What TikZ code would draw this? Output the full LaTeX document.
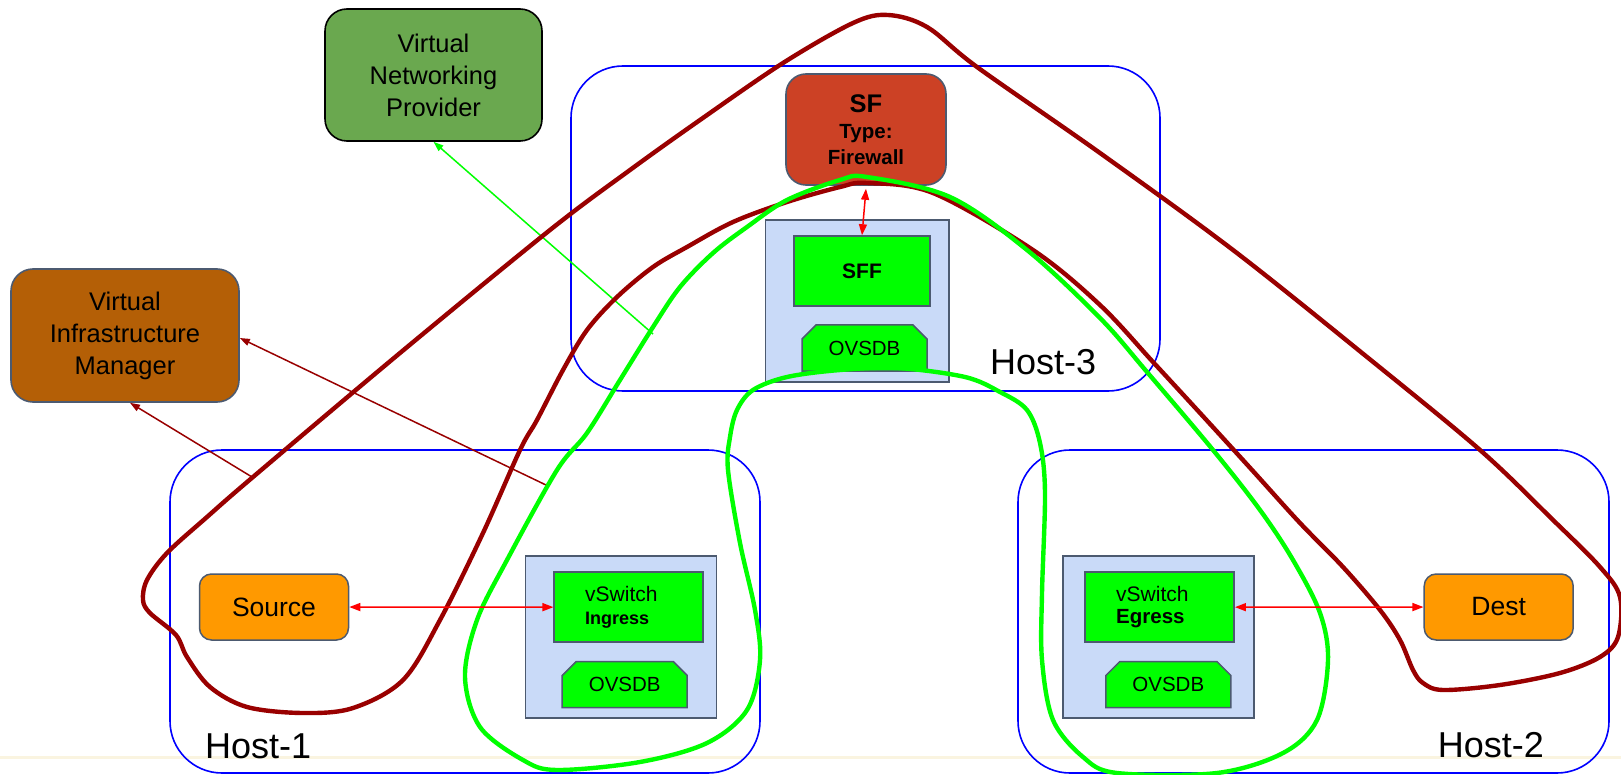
\documentclass[tikz,border=0pt]{standalone}
\usepackage{fontspec}
\setmainfont{Liberation Sans}
\usetikzlibrary{arrows.meta,shapes.misc}
\definecolor{hostblue}{RGB}{0,0,255}
\definecolor{vnpgreen}{RGB}{106,168,79}
\definecolor{vimbrown}{RGB}{180,95,6}
\definecolor{sfred}{RGB}{204,65,37}
\definecolor{srcorange}{RGB}{255,153,0}
\definecolor{lightblue}{RGB}{201,218,248}
\definecolor{brightgreen}{RGB}{0,255,0}
\definecolor{darkred}{RGB}{153,0,0}
\definecolor{slate}{RGB}{76,90,112}
\definecolor{faintline}{RGB}{250,244,224}
\tikzset{
  hostbox/.style={draw=hostblue, line width=1.6pt, rounded corners=52pt, inner sep=0pt},
  hostlabel/.style={inner sep=0pt, anchor=base west, font=\fontsize{36}{40}\selectfont},
  bigbox/.style={line width=1.6pt, rounded corners=22pt, inner sep=0pt, align=center,
    font=\fontsize{25.5}{32}\selectfont},
  lbbox/.style={draw=slate, fill=lightblue, line width=1.5pt, inner sep=0pt},
  gbox/.style={draw=slate, fill=brightgreen, line width=1.5pt, inner sep=0pt},
  vsbox/.style={gbox, align=left, inner ysep=0pt, inner xsep=31pt, text width=87pt,
    minimum height=70pt, font=\fontsize{21}{22.5}\selectfont},
  ovsdb/.style={chamfered rectangle, chamfered rectangle corners={north west,north east},
    chamfered rectangle xsep=7pt, chamfered rectangle ysep=7pt,
    draw=slate, fill=brightgreen, line width=1.5pt, inner sep=0pt,
    minimum width=125pt, minimum height=46pt, font=\fontsize{20.5}{24}\selectfont},
  endbox/.style={draw=slate, fill=srcorange, line width=1.5pt, rounded corners=12pt,
    inner sep=0pt, minimum width=149pt, minimum height=66pt,
    font=\fontsize{26.5}{30}\selectfont},
  dbl/.style={{Triangle[length=11pt,width=8pt]}-{Triangle[length=11pt,width=8pt]},
    draw=red, line width=1.5pt},
  garrow/.style={-{Triangle[length=10pt,width=7pt]}, draw=brightgreen, line width=1.5pt},
  rarrow/.style={-{Triangle[length=10pt,width=7pt]}, draw=darkred, line width=1.5pt},
  loopred/.style={draw=darkred, line width=4.4pt, line join=round},
  loopgreen/.style={draw=brightgreen, line width=4.4pt, line join=round}
}
\begin{document}
\begin{tikzpicture}[x=1pt,y=-1pt]
\path[fill=white, use as bounding box] (0,0) rectangle (1621,775);
\draw[faintline, line width=3pt] (0,757) -- (1621,757);

% hosts
\node[hostbox, minimum width=589pt, minimum height=325pt] (host3) at (865.5,228.5) {};
\node[hostbox, minimum width=590pt, minimum height=323pt] (host1) at (465,611.5) {};
\node[hostbox, minimum width=591pt, minimum height=323pt] (host2) at (1313.5,611.5) {};
\node[hostlabel] (host3l) at (990,374) {Host-3};
\node[hostlabel] (host1l) at (205,758) {Host-1};
\node[hostlabel] (host2l) at (1437.6,757) {Host-2};

% managers
\node[bigbox, draw=black, fill=vnpgreen, minimum width=217pt, minimum height=132pt]
  (vnp) at (433.5,75) {Virtual\\Networking\\Provider};
\node[bigbox, draw=slate, fill=vimbrown, minimum width=228pt, minimum height=133pt]
  (vim) at (125,335.5) {Virtual\\Infrastructure\\Manager};

% SF
\node[draw=slate, fill=sfred, line width=1.6pt, rounded corners=20pt, inner sep=0pt,
  minimum width=160pt, minimum height=111pt, align=center,
  font=\bfseries\fontsize{20.5}{26.3}\selectfont]
  (sf) at (866,129.5) {{\fontsize{25.5}{26.3}\selectfont SF}\\Type:\\Firewall};

% Host-3 switch
\node[lbbox, minimum width=183.5pt, minimum height=162pt] (lb3) at (857.25,301) {};
\node[gbox, minimum width=136pt, minimum height=70pt, font=\bfseries\fontsize{21}{24}\selectfont]
  (sff) at (862,271) {SFF};
\node[ovsdb] (ov3) at (864.5,348) {OVSDB};

% Host-1
\node[endbox] (src) at (274,607) {Source};
\node[lbbox, minimum width=191pt, minimum height=162pt] (lb1) at (621.2,637.2) {};
\node[vsbox] (vsi) at (628.7,607.2) {vSwitch\\{\fontsize{18}{22.5}\selectfont\bfseries Ingress}};
\node[ovsdb] (ov1) at (624.7,684.5) {OVSDB};

% Host-2
\node[endbox] (dst) at (1498.7,607) {Dest};
\node[lbbox, minimum width=191pt, minimum height=162pt] (lb2) at (1158.3,637.2) {};
\node[vsbox] (vse) at (1159.7,607.2) {vSwitch\\{\fontsize{20.5}{22.5}\selectfont\bfseries Egress}};
\node[ovsdb] (ov2) at (1168.3,684.5) {OVSDB};

% thin arrows to managers
\coordinate (vnpsrc) at (653,334);
\coordinate (vimsrc1) at (252,477);
\coordinate (vimsrc2) at (546,485);
\draw[garrow] (vnpsrc) -- (vnp.south);
\draw[rarrow] (vimsrc1) -- ([xshift=5pt]vim.south);
\draw[rarrow] (vimsrc2) -- ([yshift=-2.5pt]vim.east);

% service path loops
\draw[loopred] plot[smooth cycle, tension=0.55] coordinates {
 (888,15) (927,27) (977,67) (1100,153) (1233,250) (1367,357) (1480,450) (1553,520)
 (1600,567) (1620,597) (1618,637) (1600,657) (1560,673) (1500,685) (1443,690)
 (1423,683) (1413,670) (1400,640) (1380,610) (1343,567) (1300,523) (1252,470)
 (1200,413) (1153,362) (1100,305) (1033,250) (933,193) (867,183) (840,187) (787,202)
 (733,222) (687,247) (653,267) (617,297) (587,330) (563,370) (537,420) (520,450)
 (483,533) (440,620) (403,680) (353,708) (303,713) (247,707) (210,687) (187,657)
 (176,635) (150,613) (143,600) (147,580) (167,553) (207,517) (253,477) (400,353)
 (550,230) (630,170) (700,120) (783,63) (853,23)};
\draw[loopgreen] plot[smooth cycle, tension=0.55] coordinates {
 (867,177) (950,197) (1027,250) (1100,318) (1147,372) (1213,450) (1260,510)
 (1293,560) (1320,613) (1328,660) (1317,720) (1283,753) (1217,773) (1117,773)
 (1083,757) (1053,720) (1042,660) (1042,593) (1045,493) (1040,443) (1027,410)
 (1000,392) (965,377) (898,368) (840,370) (787,377) (753,390) (737,410) (730,437)
 (728,470) (740,543) (755,610) (760,660) (747,710) (707,743) (640,762) (557,770)
 (523,760) (480,727) (465,677) (477,620) (507,560) (557,470) (587,433) (620,380)
 (653,327) (680,287) (713,253) (747,227) (787,200) (840,180)};

% data-path arrows
\draw[dbl] (src) -- (vsi);
\draw[dbl] (vse) -- (dst);
\draw[dbl] ([yshift=-3pt]sf.south) -- (sff.north);
\end{tikzpicture}
\end{document}
